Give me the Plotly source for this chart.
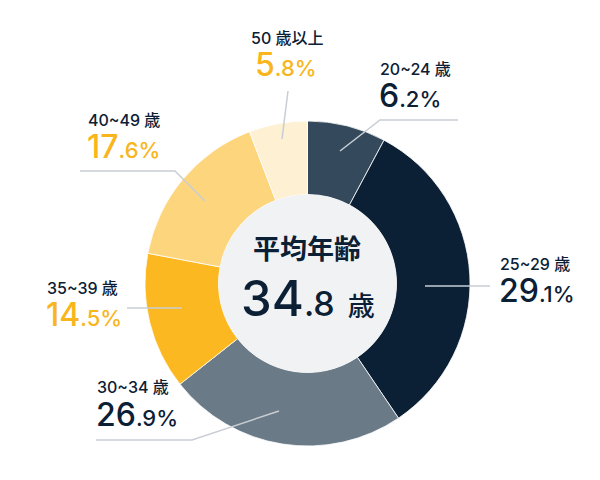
import plotly.graph_objects as go

# data
age_groups = ["20~24 歳", "25~29 歳", "30~34 歳", "35~39 歳", "40~49 歳", "50 歳以上"]
shares = [6.2, 29.1, 26.9, 14.5, 17.6, 5.8]           # printed labels
slice_sizes = [7.8, 32.7, 23.8, 13.6, 16.2, 5.8]      # slice angles as drawn in the picture
slice_colors = ["#344a5c", "#0b2035", "#6a7a87", "#fbb820", "#fdd57c", "#fef0d2"]
pct_colors = ["#0b2035", "#0b2035", "#0b2035", "#f9b51c", "#f9b51c", "#f9b51c"]
avg_age = 34.8

W, H = 600, 480
cx, cy, R, R_in = 299.5, 275.5, 162.5, 89

def px(x, y):
    return x / W, 1 - y / H

NUM_FONT = "Inter, Noto Sans CJK JP"
JP_FONT = "Noto Sans CJK JP"
DARK = "#0b2035"

fig = go.Figure()

# ring
fig.add_trace(go.Pie(
    labels=age_groups, values=slice_sizes, sort=False, direction="clockwise", rotation=0,
    hole=R_in / R,
    marker=dict(colors=slice_colors, line=dict(color="white", width=0.8)),
    customdata=shares, hovertemplate="%{label}: %{customdata}%<extra></extra>",
    textinfo="none", showlegend=False,
    domain=dict(x=[(cx - R) / W, (cx + R) / W], y=[1 - (cy + R) / H, 1 - (cy - R) / H]),
))

# center disc
fig.add_trace(go.Pie(
    values=[1], marker=dict(colors=["#f1f2f4"]), textinfo="none", hoverinfo="skip",
    showlegend=False, sort=False,
    domain=dict(x=[(cx - R_in) / W, (cx + R_in) / W], y=[1 - (cy + R_in) / H, 1 - (cy - R_in) / H]),
))

# label placement: (x, y of category, y of pct, anchor), leader polyline points
label_pos = [
    (370, 61, 87, "left"),
    (490, 256, 282, "left"),
    (87, 379, 406, "left"),
    (37, 280, 306, "left"),
    (78, 112, 138, "left"),
    (279, 30, 56, "center"),
]
leaders = [
    [(450, 112), (372, 112), (332, 143)],
    [(482, 278), (417, 278)],
    [(88, 432), (184, 432), (271, 403)],
    [(119, 300), (174, 300)],
    [(72, 163), (167, 163), (197, 193)],
    [(280, 83), (274, 131)],
]

for name, val, col, (x, y1, y2, anc), pts in zip(age_groups, shares, pct_colors, label_pos, leaders):
    ix, dec = f"{val:.1f}".split(".")
    fig.add_annotation(
        x=px(x, y1)[0], y=px(x, y1)[1], xref="paper", yref="paper",
        xanchor=anc, yanchor="middle", showarrow=False,
        text=name, font=dict(family=NUM_FONT, size=16, color=DARK, weight=500),
    )
    fig.add_annotation(
        x=px(x - 1, y2)[0], y=px(x, y2)[1], xref="paper", yref="paper",
        xanchor=anc, yanchor="middle", showarrow=False,
        text=f"{ix}<span style='font-size:22px'>.{dec}%</span>",
        font=dict(family=NUM_FONT, size=32, color=col, weight=500),
    )
    path = "M " + " L ".join(f"{px(a, b)[0]},{px(a, b)[1]}" for a, b in pts)
    fig.add_shape(type="path", path=path, xref="paper", yref="paper",
                  line=dict(color="#c9ced4", width=1.5))

# center text
fig.add_annotation(
    x=px(299, 239)[0], y=px(299, 239)[1], xref="paper", yref="paper",
    showarrow=False, text="<b>平均年齢</b>",
    font=dict(family=JP_FONT, size=27, color=DARK),
)
ai, ad = f"{avg_age:.1f}".split(".")
fig.add_annotation(
    x=px(300, 290)[0], y=px(300, 290)[1], xref="paper", yref="paper",
    showarrow=False,
    text=f"{ai}<span style='font-size:34px'>.{ad}</span> <span style='font-size:27px'>歳</span>",
    font=dict(family=NUM_FONT, size=49, color=DARK, weight=500),
)

fig.update_layout(
    width=W, height=H, margin=dict(l=0, r=0, t=0, b=0),
    paper_bgcolor="white", plot_bgcolor="white",
)
fig.write_html("out.html")
